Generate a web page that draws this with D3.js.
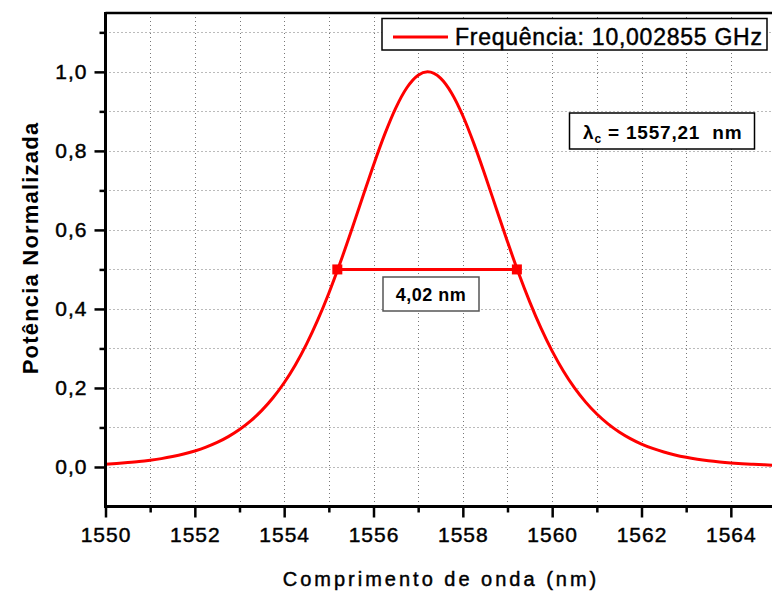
<!DOCTYPE html>
<html>
<head>
<meta charset="utf-8">
<script src="https://cdn.jsdelivr.net/npm/d3@7"></script>
<style>
  html, body { margin: 0; padding: 0; background: #fff; }
  svg { display: block; font-family: "Liberation Sans", Arial, sans-serif; }
</style>
</head>
<body>
<svg id="chart" width="772" height="592"></svg>
<script>
// Normalised spectrum of the filter response (wavelength in nm, power 0..1)
const wavelengths = [
  1550.00, 1550.25, 1550.50, 1550.75, 1551.00, 1551.25, 1551.50, 1551.75,
  1552.00, 1552.25, 1552.50, 1552.75, 1553.00, 1553.25, 1553.50, 1553.75,
  1554.00, 1554.25, 1554.50, 1554.75, 1555.00, 1555.25, 1555.50, 1555.75,
  1556.00, 1556.25, 1556.50, 1556.75, 1557.00, 1557.21, 1557.50, 1557.75,
  1558.00, 1558.25, 1558.50, 1558.75, 1559.00, 1559.25, 1559.50, 1559.75,
  1560.00, 1560.25, 1560.50, 1560.75, 1561.00, 1561.25, 1561.50, 1561.75,
  1562.00, 1562.25, 1562.50, 1562.75, 1563.00, 1563.25, 1563.50, 1563.75,
  1564.00, 1564.25, 1564.50, 1564.75, 1565.00
];
const power = [
  0.0071, 0.0089, 0.0111, 0.0137, 0.0171, 0.0212, 0.0264, 0.0327,
  0.0406, 0.0503, 0.0622, 0.0769, 0.0948, 0.1167, 0.1432, 0.1751,
  0.2132, 0.2582, 0.3109, 0.3715, 0.4399, 0.5155, 0.5966, 0.6806,
  0.7639, 0.8417, 0.9090, 0.9604, 0.9916, 1.0000, 0.9840, 0.9459,
  0.8889, 0.8177, 0.7376, 0.6536, 0.5702, 0.4902, 0.4172, 0.3512,
  0.2932, 0.2430, 0.2002, 0.1642, 0.1341, 0.1092, 0.0887, 0.0719,
  0.0581, 0.0470, 0.0379, 0.0305, 0.0246, 0.0198, 0.0159, 0.0128,
  0.0103, 0.0083, 0.0067, 0.0054, 0.0043
];

// Half-maximum crossings and the resulting width
const halfMaxPoints = [1555.19, 1559.21];
const halfMaxLevel = 0.5;
const fwhmLabel = "4,02 nm";

const legendLabel = "Frequência: 10,002855 GHz";
const centerLabel = "1557,21\u00a0 nm";

const xMajorTicks = [1550, 1552, 1554, 1556, 1558, 1560, 1562, 1564];
const xMinorTicks = [1551, 1553, 1555, 1557, 1559, 1561, 1563, 1565];
const xGridTicks = [1551, 1552, 1553, 1554, 1555, 1556, 1557, 1558, 1559, 1560, 1561, 1562, 1563, 1564, 1565];
const yMajorTicks = [0, 0.2, 0.4, 0.6, 0.8, 1.0];
const yMinorTicks = [0.1, 0.3, 0.5, 0.7, 0.9, 1.1];
const yGridTicks = [0, 0.1, 0.2, 0.3, 0.4, 0.5, 0.6, 0.7, 0.8, 0.9, 1.0, 1.1];

const xTitle = "Comprimento de onda (nm)";
const yTitle = "Potência Normalizada";

const svg = d3.select("#chart");
const W = 772, H = 592;
const pLeft = 105.5, pTop = 13, pBottom = 506.5, pRight = 775.5;

const x = d3.scaleLinear().domain([1550, 1565]).range([pLeft, pRight]);
const y = d3.scaleLinear().domain([-0.1, 1.15]).range([pBottom, pTop - 0.4]);
const commaFmt = d => d3.format(".1f")(d).replace(".", ",");

// thickens regular-weight glyphs slightly
const heavy = t => t.attr("stroke", "#000").attr("stroke-width", 0.45).attr("paint-order", "stroke");

svg.append("rect").attr("width", W).attr("height", H).attr("fill", "#fff");

svg.append("defs").append("clipPath").attr("id", "plotClip")
  .append("rect").attr("x", pLeft).attr("y", pTop).attr("width", pRight - pLeft).attr("height", pBottom - pTop);

// Dotted grid
const grid = svg.append("g").attr("stroke", "#777").attr("stroke-width", 1).attr("stroke-dasharray", "1,3");
grid.selectAll(".gx").data(xGridTicks).join("line")
  .attr("x1", d => Math.round(x(d)) + 0.5).attr("x2", d => Math.round(x(d)) + 0.5)
  .attr("y1", pTop).attr("y2", pBottom);
grid.selectAll(".gy").data(yGridTicks).join("line")
  .attr("x1", pLeft).attr("x2", pRight)
  .attr("y1", d => Math.round(y(d)) + 0.5).attr("y2", d => Math.round(y(d)) + 0.5);

// Spectrum curve
const pts = wavelengths.map((w, i) => [w, power[i]]);
svg.append("path")
  .datum(pts)
  .attr("clip-path", "url(#plotClip)")
  .attr("fill", "none")
  .attr("stroke", "#ff0000")
  .attr("stroke-width", 3)
  .attr("stroke-linejoin", "round")
  .attr("d", d3.line().x(d => x(d[0])).y(d => y(d[1])).curve(d3.curveMonotoneX));

// FWHM marker
svg.append("line")
  .attr("x1", x(halfMaxPoints[0])).attr("x2", x(halfMaxPoints[1]))
  .attr("y1", y(halfMaxLevel)).attr("y2", y(halfMaxLevel))
  .attr("stroke", "#ff0000").attr("stroke-width", 3);
svg.selectAll(".hm").data(halfMaxPoints).join("rect")
  .attr("x", d => x(d) - 5).attr("y", y(halfMaxLevel) - 5)
  .attr("width", 10).attr("height", 10).attr("fill", "#ff0000");

// FWHM label box
svg.append("rect").attr("x", 383).attr("y", 277).attr("width", 96).attr("height", 34)
  .attr("fill", "#fff").attr("stroke", "#555").attr("stroke-width", 1.5);
svg.append("text").attr("x", 431).attr("y", 301).attr("text-anchor", "middle")
  .attr("font-size", 18).attr("font-weight", "bold").attr("letter-spacing", 0.5)
  .attr("fill", "#000").text(fwhmLabel);

// Centre wavelength box
svg.append("rect").attr("x", 569.5).attr("y", 113).attr("width", 185).attr("height", 36)
  .attr("fill", "#fff").attr("stroke", "#000").attr("stroke-width", 1.5);
const ct = svg.append("text").attr("x", 583).attr("y", 138.5).attr("font-size", 19)
  .attr("font-weight", "bold").attr("letter-spacing", 0.8).attr("fill", "#000");
ct.append("tspan").text("λ");
ct.append("tspan").attr("font-size", 12).attr("dy", 4).text("c");
ct.append("tspan").attr("dy", -4).text(" = " + centerLabel);

// Legend
svg.append("rect").attr("x", 382).attr("y", 18.5).attr("width", 385).attr("height", 31.5)
  .attr("fill", "#fff").attr("stroke", "#000").attr("stroke-width", 1.5);
svg.append("line").attr("x1", 393).attr("x2", 448).attr("y1", 37).attr("y2", 37)
  .attr("stroke", "#ff0000").attr("stroke-width", 3);
svg.append("text").attr("x", 455).attr("y", 44.5).attr("font-size", 23)
  .attr("fill", "#000").attr("letter-spacing", 0.75).text(legendLabel).call(heavy);

// Axes
const axisStyle = g => {
  g.select(".domain").remove();
  g.selectAll(".tick line").attr("stroke", "#000").attr("stroke-width", 2.5);
  g.selectAll(".tick text").attr("fill", "#000").attr("font-family", "Liberation Sans, Arial, sans-serif");
};

svg.append("g").attr("transform", `translate(0,${pBottom})`)
  .call(d3.axisBottom(x).tickValues(xMinorTicks).tickSize(6).tickFormat(""))
  .call(axisStyle);
svg.append("g").attr("transform", `translate(0,${pBottom})`)
  .call(d3.axisBottom(x).tickValues(xMajorTicks).tickSize(11).tickPadding(10).tickFormat(d3.format("d")))
  .call(axisStyle)
  .call(g => g.selectAll(".tick text").attr("font-size", 21).attr("letter-spacing", 1).call(heavy));

svg.append("g").attr("transform", `translate(${pLeft},0)`)
  .call(d3.axisLeft(y).tickValues(yMinorTicks).tickSize(6).tickFormat(""))
  .call(axisStyle);
svg.append("g").attr("transform", `translate(${pLeft},0)`)
  .call(d3.axisLeft(y).tickValues(yMajorTicks).tickSize(11).tickPadding(7).tickFormat(commaFmt))
  .call(axisStyle)
  .call(g => g.selectAll(".tick text").attr("font-size", 21).attr("letter-spacing", 1).call(heavy));

// Frame lines
svg.append("line").attr("x1", pLeft).attr("x2", W).attr("y1", pBottom).attr("y2", pBottom)
  .attr("stroke", "#000").attr("stroke-width", 3);
svg.append("line").attr("x1", pLeft).attr("x2", pLeft).attr("y1", pTop - 1).attr("y2", pBottom + 1.5)
  .attr("stroke", "#000").attr("stroke-width", 3);
svg.append("line").attr("x1", pLeft).attr("x2", W).attr("y1", pTop).attr("y2", pTop)
  .attr("stroke", "#000").attr("stroke-width", 2.5);

// Axis titles
svg.append("text").attr("x", 441).attr("y", 585.5).attr("text-anchor", "middle")
  .attr("font-size", 20).attr("letter-spacing", 3)
  .attr("fill", "#000").text(xTitle).call(heavy);
svg.append("text").attr("transform", "translate(38,248) rotate(-90)").attr("text-anchor", "middle")
  .attr("font-size", 22).attr("font-weight", "bold").attr("letter-spacing", 1.2)
  .attr("fill", "#000").text(yTitle);
</script>
</body>
</html>
